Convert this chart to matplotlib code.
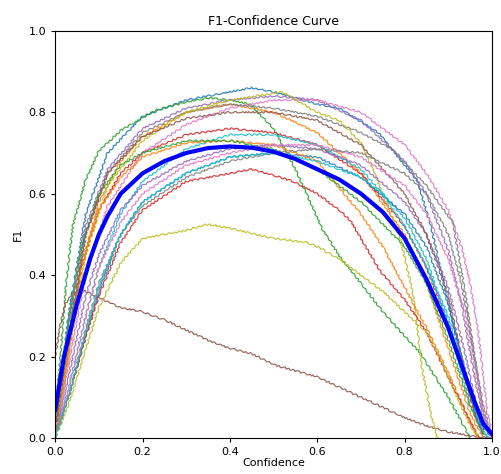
import matplotlib
matplotlib.use("Agg")
import matplotlib.pyplot as plt

# ---------------------------------------------------------------------------
# per-class F1 vs confidence
# ---------------------------------------------------------------------------
c01_x = [0, 0.03, 0.07, 0.12, 0.2, 0.3, 0.4, 0.45, 0.5, 0.6, 0.65, 0.74, 0.83, 0.86, 0.9, 0.94, 0.97, 0.99]
c01_y = [0.02, 0.3, 0.55, 0.7, 0.79, 0.83, 0.85, 0.86, 0.85, 0.82, 0.81, 0.75, 0.63, 0.52, 0.33, 0.15, 0.03, 0.0]

c02_x = [0, 0.03, 0.06, 0.1, 0.15, 0.2, 0.3, 0.4, 0.5, 0.6, 0.7, 0.8, 0.85, 0.9, 0.95, 0.98]
c02_y = [0.0, 0.2, 0.42, 0.58, 0.68, 0.74, 0.8, 0.82, 0.8, 0.75, 0.65, 0.5, 0.38, 0.22, 0.06, 0.0]

c03_x = [0, 0.01, 0.025, 0.04, 0.07, 0.1, 0.15, 0.23, 0.3, 0.35, 0.4, 0.446, 0.5, 0.55, 0.613, 0.652, 0.7, 0.75, 0.8, 0.835, 0.87, 0.9, 0.93, 0.95]
c03_y = [0.05, 0.18, 0.38, 0.52, 0.635, 0.705, 0.755, 0.805, 0.825, 0.835, 0.83, 0.82, 0.76, 0.66, 0.51, 0.445, 0.38, 0.31, 0.25, 0.21, 0.15, 0.1, 0.04, 0.0]

c04_x = [0, 0.03, 0.06, 0.1, 0.15, 0.2, 0.3, 0.4, 0.5, 0.6, 0.7, 0.8, 0.85, 0.9, 0.95, 0.98]
c04_y = [0.0, 0.22, 0.42, 0.56, 0.65, 0.7, 0.745, 0.76, 0.75, 0.72, 0.65, 0.52, 0.42, 0.28, 0.1, 0.02]

c05_x = [0, 0.03, 0.07, 0.12, 0.2, 0.3, 0.4, 0.5, 0.6, 0.7, 0.8, 0.85, 0.9, 0.93, 0.96, 0.98, 1.0]
c05_y = [0.03, 0.28, 0.52, 0.66, 0.76, 0.81, 0.83, 0.84, 0.83, 0.78, 0.68, 0.6, 0.46, 0.33, 0.15, 0.05, 0.0]

c06_x = [0, 0.01, 0.023, 0.04, 0.06, 0.1, 0.15, 0.2, 0.25, 0.3, 0.35, 0.4, 0.45, 0.5, 0.55, 0.6, 0.65, 0.7, 0.75, 0.8, 0.85, 0.9, 0.95, 1.0]
c06_y = [0.2, 0.27, 0.33, 0.355, 0.365, 0.345, 0.32, 0.31, 0.29, 0.265, 0.24, 0.22, 0.207, 0.18, 0.165, 0.15, 0.125, 0.1, 0.075, 0.05, 0.03, 0.015, 0.005, 0.0]

c07_x = [0, 0.03, 0.07, 0.12, 0.2, 0.3, 0.4, 0.5, 0.6, 0.7, 0.8, 0.85, 0.9, 0.93, 0.95, 0.97, 0.98, 0.99, 1.0]
c07_y = [0.0, 0.18, 0.4, 0.57, 0.7, 0.77, 0.81, 0.83, 0.83, 0.8, 0.72, 0.65, 0.56, 0.47, 0.38, 0.25, 0.15, 0.06, 0.01]

c08_x = [0, 0.03, 0.07, 0.12, 0.2, 0.3, 0.4, 0.5, 0.6, 0.7, 0.77, 0.85, 0.91, 0.94, 0.96, 0.98, 1.0]
c08_y = [0.0, 0.25, 0.5, 0.65, 0.75, 0.8, 0.82, 0.81, 0.79, 0.75, 0.71, 0.62, 0.53, 0.35, 0.2, 0.06, 0.0]

c09_x = [0, 0.03, 0.07, 0.12, 0.2, 0.3, 0.4, 0.52, 0.6, 0.65, 0.7, 0.735, 0.79, 0.82, 0.84, 0.86, 0.875]
c09_y = [0.0, 0.2, 0.45, 0.62, 0.73, 0.8, 0.83, 0.85, 0.8, 0.78, 0.725, 0.64, 0.49, 0.35, 0.17, 0.06, 0.0]

c10_x = [0, 0.03, 0.07, 0.1, 0.15, 0.2, 0.3, 0.4, 0.5, 0.6, 0.7, 0.8, 0.85, 0.9, 0.95, 0.98]
c10_y = [0.0, 0.12, 0.3, 0.42, 0.55, 0.63, 0.71, 0.745, 0.745, 0.72, 0.66, 0.54, 0.44, 0.28, 0.08, 0.01]

c11_x = [0, 0.03, 0.07, 0.1, 0.15, 0.2, 0.3, 0.4, 0.5, 0.6, 0.7, 0.8, 0.85, 0.9, 0.94, 0.97, 1.0]
c11_y = [0.0, 0.1, 0.25, 0.36, 0.5, 0.58, 0.65, 0.69, 0.7, 0.69, 0.64, 0.55, 0.47, 0.33, 0.16, 0.04, 0.0]

c12_x = [0, 0.03, 0.06, 0.1, 0.15, 0.2, 0.3, 0.4, 0.5, 0.6, 0.7, 0.75, 0.8, 0.85, 0.9, 0.95, 0.97]
c12_y = [0.0, 0.22, 0.42, 0.56, 0.64, 0.69, 0.725, 0.73, 0.72, 0.68, 0.55, 0.47, 0.37, 0.27, 0.16, 0.04, 0.0]

c13_x = [0, 0.03, 0.06, 0.1, 0.15, 0.2, 0.3, 0.4, 0.5, 0.6, 0.7, 0.8, 0.85, 0.9, 0.95, 0.98]
c13_y = [0.02, 0.28, 0.47, 0.6, 0.67, 0.7, 0.73, 0.73, 0.71, 0.66, 0.58, 0.47, 0.38, 0.24, 0.08, 0.01]

c14_x = [0, 0.03, 0.07, 0.1, 0.15, 0.2, 0.3, 0.4, 0.45, 0.5, 0.545, 0.6, 0.65, 0.675, 0.7, 0.744, 0.8, 0.85, 0.9, 0.95, 0.97]
c14_y = [0.0, 0.1, 0.25, 0.35, 0.48, 0.56, 0.63, 0.65, 0.66, 0.645, 0.63, 0.6, 0.56, 0.535, 0.49, 0.41, 0.34, 0.26, 0.15, 0.04, 0.0]

c15_x = [0, 0.03, 0.07, 0.1, 0.15, 0.2, 0.3, 0.4, 0.5, 0.6, 0.7, 0.8, 0.85, 0.9, 0.94, 0.97, 1.0]
c15_y = [0.0, 0.15, 0.35, 0.45, 0.56, 0.62, 0.68, 0.71, 0.72, 0.71, 0.67, 0.58, 0.5, 0.37, 0.2, 0.05, 0.0]

c16_x = [0, 0.03, 0.07, 0.12, 0.2, 0.3, 0.4, 0.5, 0.6, 0.7, 0.8, 0.85, 0.9, 0.93, 0.96, 0.98]
c16_y = [0.02, 0.25, 0.5, 0.65, 0.74, 0.785, 0.8, 0.8, 0.78, 0.72, 0.6, 0.5, 0.35, 0.2, 0.06, 0.01]

c17_x = [0, 0.03, 0.07, 0.1, 0.15, 0.2, 0.3, 0.4, 0.5, 0.6, 0.7, 0.8, 0.85, 0.9, 0.94, 0.97, 0.99]
c17_y = [0.0, 0.12, 0.3, 0.42, 0.53, 0.6, 0.67, 0.7, 0.72, 0.72, 0.69, 0.62, 0.55, 0.44, 0.3, 0.12, 0.02]

c18_x = [0, 0.03, 0.07, 0.1, 0.15, 0.2, 0.3, 0.4, 0.5, 0.6, 0.7, 0.8, 0.85, 0.9, 0.93, 0.96, 0.98, 1.0]
c18_y = [0.0, 0.1, 0.27, 0.38, 0.5, 0.57, 0.64, 0.68, 0.7, 0.71, 0.7, 0.65, 0.6, 0.5, 0.38, 0.2, 0.08, 0.0]

c19_x = [0, 0.03, 0.07, 0.1, 0.15, 0.2, 0.25, 0.3, 0.35, 0.4, 0.5, 0.576, 0.6, 0.65, 0.7, 0.75, 0.8, 0.85, 0.88, 0.92, 0.95, 0.97]
c19_y = [0.0, 0.08, 0.22, 0.32, 0.43, 0.49, 0.5, 0.51, 0.525, 0.515, 0.49, 0.48, 0.47, 0.44, 0.4, 0.36, 0.31, 0.26, 0.2, 0.1, 0.03, 0.0]

c20_x = [0, 0.03, 0.07, 0.1, 0.15, 0.2, 0.3, 0.4, 0.5, 0.6, 0.7, 0.75, 0.8, 0.85, 0.9, 0.94, 0.97, 0.99]
c20_y = [0.0, 0.1, 0.26, 0.37, 0.5, 0.58, 0.65, 0.69, 0.7, 0.68, 0.64, 0.6, 0.52, 0.42, 0.3, 0.15, 0.04, 0.0]

CLASS_CURVES = [
    (c01_x, c01_y), (c02_x, c02_y), (c03_x, c03_y), (c04_x, c04_y), (c05_x, c05_y),
    (c06_x, c06_y), (c07_x, c07_y), (c08_x, c08_y), (c09_x, c09_y), (c10_x, c10_y),
    (c11_x, c11_y), (c12_x, c12_y), (c13_x, c13_y), (c14_x, c14_y), (c15_x, c15_y),
    (c16_x, c16_y), (c17_x, c17_y), (c18_x, c18_y), (c19_x, c19_y), (c20_x, c20_y),
]

# all-classes curve (thick blue)
all_x = [0, 0.02, 0.05, 0.08, 0.1, 0.12, 0.15, 0.2, 0.25, 0.3, 0.35, 0.4, 0.45, 0.5,
         0.55, 0.6, 0.65, 0.7, 0.75, 0.8, 0.85, 0.9, 0.93, 0.96, 0.98, 1.0]
all_y = [0.07, 0.2, 0.33, 0.44, 0.5, 0.545, 0.6, 0.65, 0.68, 0.7, 0.712, 0.716, 0.713, 0.703,
         0.685, 0.66, 0.635, 0.6, 0.555, 0.49, 0.39, 0.27, 0.18, 0.09, 0.035, 0.01]

# ---------------------------------------------------------------------------
fig = plt.figure(figsize=(5.02, 4.74), dpi=100)
ax = fig.add_axes([0.110, 0.076, 0.870, 0.859])

colors = plt.rcParams["axes.prop_cycle"].by_key()["color"]
for i, (cx, cy) in enumerate(CLASS_CURVES):
    ln, = ax.plot(cx, cy, lw=0.85, color=colors[i % len(colors)], alpha=0.9)
    ln.set_sketch_params(scale=0.8, length=7, randomness=3)  # ragged look of the original

ax.plot(all_x, all_y, lw=3, color="blue")

ax.set_xlim(0, 1)
ax.set_ylim(0, 1)
ax.set_xticks([0, 0.2, 0.4, 0.6, 0.8, 1.0])
ax.set_yticks([0, 0.2, 0.4, 0.6, 0.8, 1.0])
ax.tick_params(labelsize=8, length=3)
ax.set_xlabel("Confidence", fontsize=8, labelpad=1)
ax.set_ylabel("F1", fontsize=8, labelpad=4)
ax.set_title("F1-Confidence Curve", fontsize=9, pad=4)

fig.savefig("out.png", dpi=100)
